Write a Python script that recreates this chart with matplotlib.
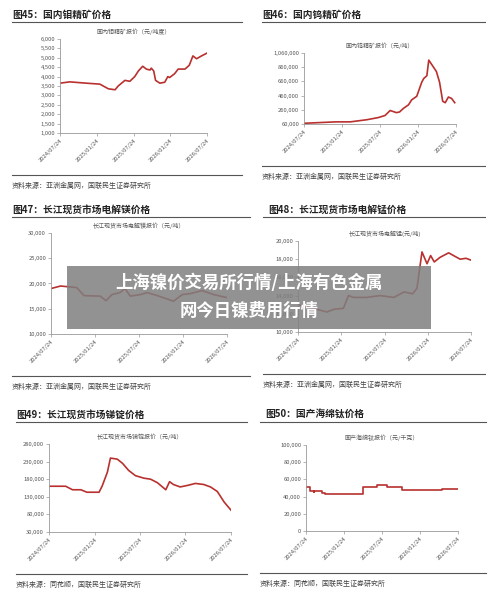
import matplotlib
matplotlib.use("Agg")
import matplotlib.pyplot as plt
from matplotlib.patches import Rectangle
from matplotlib.lines import Line2D

plt.rcParams['font.family'] = ['Noto Sans CJK SC', 'DejaVu Sans']

xticklabels = ["2024/07/24", "2025/01/24", "2025/07/24", "2026/01/24", "2026/07/24"]
xtick_months = [0, 6, 12, 18, 24]

mo_x = [0, 1.6, 4.3, 6.5, 7.9, 9, 9.5, 10.6, 11.4, 12.2, 12.8, 13.5, 14.1, 14.7, 14.9, 15.3, 15.6, 16.3, 17.1, 17.6, 17.9, 18.7, 19.3, 20.4, 21.1, 21.7, 22.3, 23.1, 24]
mo_y = [3650, 3720, 3650, 3600, 3350, 3300, 3500, 3800, 3750, 4000, 4300, 4550, 4400, 4350, 4450, 4300, 3800, 3650, 3700, 4000, 3950, 4150, 4400, 4400, 4600, 5100, 4950, 5100, 5250]

w_x = [0, 5, 7.3, 9.9, 11.7, 12.8, 13.6, 14.6, 15.1, 15.7, 16.5, 17, 17.8, 18.2, 18.6, 18.9, 19.4, 19.7, 20.3, 20.9, 21.4, 21.9, 22.3, 22.8, 23.3, 23.8]
w_y = [70000, 90000, 90000, 120000, 150000, 180000, 250000, 220000, 230000, 280000, 330000, 400000, 450000, 550000, 650000, 700000, 740000, 960000, 880000, 800000, 650000, 380000, 360000, 440000, 420000, 360000]

mg_x = [0, 1.3, 3.5, 4.5, 6.7, 7.5, 8.3, 9.4, 10.1, 10.8, 12.2, 13.1, 14.5, 16.7, 17.9, 19.0, 20.6, 22.2, 24]
mg_y = [19000, 19500, 19200, 17600, 17500, 16600, 17800, 18200, 19000, 17500, 17800, 18200, 17600, 16500, 17800, 18000, 18600, 17800, 17200]

mn_x = [0, 2.6, 4, 5, 6.3, 7, 7.7, 9.5, 11.4, 13.3, 14.7, 15.9, 16.5, 17.2, 17.9, 18.4, 18.9, 19.7, 20.9, 21.8, 22.5, 23.3, 24]
mn_y = [13000, 12500, 12200, 12500, 12600, 14000, 13800, 13800, 14000, 13800, 14400, 14200, 14800, 18800, 17500, 18400, 17700, 18200, 18700, 18300, 18000, 18100, 17900]

sb_x = [0, 2.2, 3.1, 4.2, 5, 6.6, 7.0, 7.7, 8.1, 9, 9.7, 10.5, 11.4, 12.5, 13.4, 14.3, 15.4, 15.9, 16.4, 17.3, 18.4, 19.3, 20.4, 21.3, 22.2, 23.1, 24]
sb_y = [160000, 160000, 150000, 150000, 143000, 143000, 160000, 200000, 240000, 237000, 225000, 205000, 190000, 183000, 180000, 170000, 150000, 173000, 165000, 158000, 163000, 168000, 165000, 158000, 145000, 115000, 92000]

ti_x = [0, 0.7, 1.2, 1.3, 2.5, 3.0, 3.5, 9, 11.2, 12.8, 15.2, 21.5, 24]
ti_y = [51000, 47000, 45000, 47000, 44000, 43000, 43000, 51000, 53000, 51000, 48000, 49000, 49000]

W, H = 500, 595
fig = plt.figure(figsize=(5, 5.95), dpi=100)
red = "#b8312f"

def px_axes(l, t, r, b):
    return fig.add_axes([l / W, 1 - b / H, (r - l) / W, (b - t) / H])

def hline(x0, x1, y, lw=0.8, c="#555555"):
    fig.add_artist(Line2D([x0 / W, x1 / W], [1 - y / H, 1 - y / H], color=c, lw=lw))

def panel(title, subtitle, source, px, tx, ty, ax_box, x, y, yticks, step=False):
    x0, x1 = px
    fig.text(tx / W, 1 - ty / H, title, fontsize=7, fontweight="bold", va="center", color="#222222")
    hline(x0, x1, ty + 7)
    hline(x0, x1, ax_box[3] + 42)
    fig.text(x0 / W, 1 - (ax_box[3] + 53) / H, source, fontsize=5, va="center", color="#444444")
    ax = px_axes(*ax_box)
    if step:
        ax.step(x, y, where="post", color=red, lw=1.2)
    else:
        ax.plot(x, y, color=red, lw=1.2)
    ax.set_xlim(0, 24)
    ax.set_ylim(yticks[0], yticks[-1])
    ax.set_yticks(yticks)
    ax.set_yticklabels([f"{v:,}" for v in yticks], fontsize=4.2, color="#555555")
    ax.set_xticks(xtick_months)
    ax.set_xticklabels(xticklabels, rotation=45, ha="right", rotation_mode="anchor", fontsize=4.2, color="#555555")
    for s in ["top", "right"]:
        ax.spines[s].set_visible(False)
    for s in ["left", "bottom"]:
        ax.spines[s].set_color("#999999")
        ax.spines[s].set_linewidth(0.6)
    ax.tick_params(length=2, width=0.5, color="#999999", pad=1.5)
    fig.text((ax_box[0] + ax_box[2]) / 2 / W, 1 - (ax_box[1] - 4) / H, subtitle, fontsize=4.3, ha="center", va="bottom", color="#555555")
    return ax

src1 = "资料来源：亚洲金属网，国联民生证券研究所"
src2 = "资料来源：同花顺，国联民生证券研究所"

panel("图45：国内钼精矿价格", "国内钼精矿报价（元/吨度）", src1, (12, 242), 12, 15,
      (60, 39, 207, 133), mo_x, mo_y, list(range(1000, 6001, 500)))
panel("图46：国内钨精矿价格", "国内钨精矿报价（元/吨）", src1, (262, 485), 262, 15,
      (304, 53, 456, 124), w_x, w_y, [60000, 260000, 460000, 660000, 860000, 1060000])
panel("图47：长江现货市场电解镁价格", "长江现货市场电解镁报价（元/吨）", src1, (12, 250), 12, 210,
      (51, 233, 227, 334), mg_x, mg_y, [10000, 15000, 20000, 25000, 30000])
panel("图48：长江现货市场电解锰价格", "长江现货市场电解锰(元/吨)", src1, (263, 485), 268, 210,
      (298, 241, 471, 332), mn_x, mn_y, [10000, 12000, 14000, 16000, 18000, 20000])
panel("图49：长江现货市场锑锭价格", "长江现货市场锑锭报价（元/吨）", src2, (16, 247), 16, 415,
      (49, 444, 231, 532), sb_x, sb_y, [30000, 80000, 130000, 180000, 230000, 280000])
panel("图50：国产海绵钛价格", "国产海绵钛报价（元/千克）", src2, (260, 486), 265, 415,
      (306, 445, 458, 531), ti_x, ti_y, [0, 20000, 40000, 60000, 80000, 100000], step=True)

fig.add_artist(Rectangle((67 / W, 1 - 329 / H), (431 - 67) / W, (329 - 266) / H,
                         transform=fig.transFigure, facecolor="#7f7f7f", alpha=0.85, edgecolor="none"))
fig.text(249 / W, 1 - 283 / H, "上海镍价交易所行情/上海有色金属", fontsize=12.5, fontweight="bold",
         color="white", ha="center", va="center")
fig.text(249 / W, 1 - 311 / H, "网今日镍费用行情", fontsize=12.5, fontweight="bold",
         color="white", ha="center", va="center")

fig.savefig("out.png", dpi=100, facecolor="white")
